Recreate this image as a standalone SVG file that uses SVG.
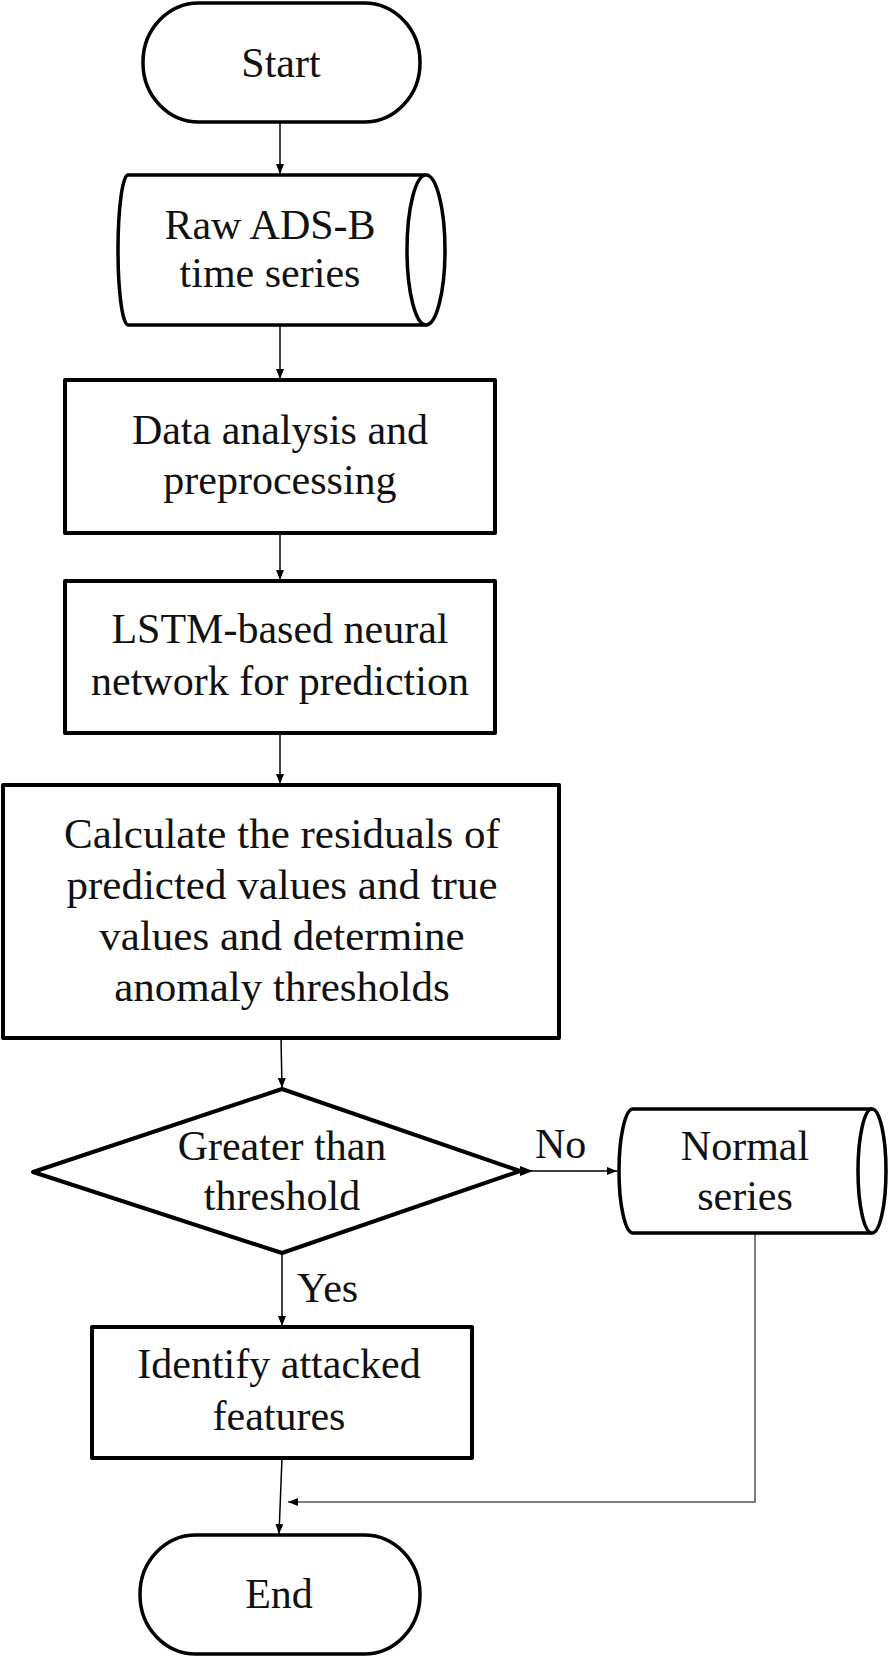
<svg xmlns="http://www.w3.org/2000/svg" width="892" height="1657" viewBox="0 0 892 1657">
<style>
.shape{fill:#fff;stroke:#000;stroke-width:4;stroke-linejoin:round}
.term{fill:#fff;stroke:#000;stroke-width:3.5}
.conn{fill:none;stroke:#000;stroke-width:1.5}
.conn2{fill:none;stroke:#555;stroke-width:1.5}
text{font-family:"Liberation Serif","Times New Roman",serif;font-size:42px;fill:#111;text-anchor:middle}
.big{font-size:43px}
</style>
<defs>
<marker id="arr" markerWidth="10" markerHeight="8" refX="10" refY="4" orient="auto" markerUnits="userSpaceOnUse">
<path d="M0,0 L10,4 L0,8 Z" fill="#000"/>
</marker>
</defs>
<rect width="892" height="1657" fill="#fff"/>
<g id="connectors">
<line class="conn" x1="280" y1="122" x2="280" y2="174" marker-end="url(#arr)"/>
<line class="conn" x1="280" y1="325" x2="280" y2="379" marker-end="url(#arr)"/>
<line class="conn" x1="280" y1="533" x2="280" y2="580" marker-end="url(#arr)"/>
<line class="conn" x1="280" y1="733" x2="280" y2="784" marker-end="url(#arr)"/>
<line class="conn" x1="281" y1="1038" x2="282" y2="1088" marker-end="url(#arr)"/>
<line class="conn" x1="520" y1="1171" x2="617" y2="1171" marker-end="url(#arr)"/>
<path d="M520,1166 L533,1171 L520,1176 Z" fill="#000"/>
<line class="conn" x1="282" y1="1253" x2="282" y2="1326" marker-end="url(#arr)"/>
<line class="conn" x1="282" y1="1458" x2="279" y2="1534" marker-end="url(#arr)"/>
<polyline class="conn2" points="755,1233 755,1502 288,1502" marker-end="url(#arr)"/>
</g>
<g id="start">
<rect class="term" x="143" y="3" width="277" height="119" rx="56" ry="59"/>
<text x="281" y="77">Start</text>
</g>
<g id="raw">
<path class="term" d="M426,175 L128,175 A10,75 0 0 0 128,325 L426,325"/>
<ellipse class="term" cx="426" cy="250" rx="19" ry="75"/>
<text x="270" y="239">Raw ADS-B</text>
<text x="270" y="287">time series</text>
</g>
<g id="preprocess">
<rect class="shape" x="65" y="380" width="430" height="153"/>
<text x="280" y="444">Data analysis and</text>
<text x="280" y="494">preprocessing</text>
</g>
<g id="lstm">
<rect class="shape" x="65" y="581" width="430" height="152"/>
<text x="280" y="643">LSTM-based neural</text>
<text x="280" y="695">network for prediction</text>
</g>
<g id="residuals">
<rect class="shape" x="3" y="785" width="556" height="253"/>
<text class="big" x="282" y="848">Calculate the residuals of</text>
<text class="big" x="282" y="899">predicted values and true</text>
<text class="big" x="282" y="950">values and determine</text>
<text class="big" x="282" y="1001">anomaly thresholds</text>
</g>
<g id="decision">
<polygon class="shape" points="282,1089 520,1171 282,1253 33,1172"/>
<text x="282" y="1160">Greater than</text>
<text x="282" y="1210">threshold</text>
<text x="535" y="1158" style="text-anchor:start">No</text>
<text x="297" y="1302" style="text-anchor:start">Yes</text>
</g>
<g id="normal">
<path class="term" d="M872,1109 L633,1109 A14,62 0 0 0 633,1233 L872,1233"/>
<ellipse class="term" cx="872" cy="1171" rx="14" ry="62"/>
<text x="745" y="1160">Normal</text>
<text x="745" y="1210">series</text>
</g>
<g id="identify">
<rect class="shape" x="92" y="1327" width="380" height="131"/>
<text x="279" y="1378">Identify attacked</text>
<text x="279" y="1430">features</text>
</g>
<g id="end">
<rect class="term" x="140" y="1535" width="280" height="119" rx="56" ry="59"/>
<text x="279" y="1608">End</text>
</g>
</svg>
